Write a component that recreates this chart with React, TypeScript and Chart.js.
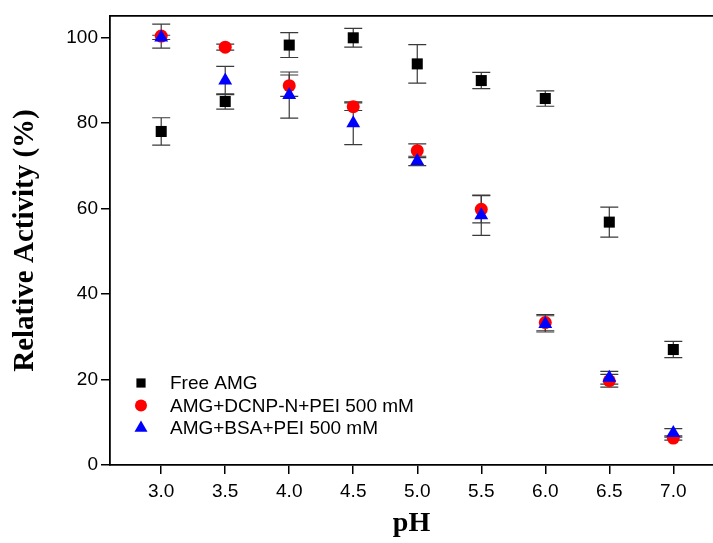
import React, { useEffect, useRef } from "react";
import { Chart, registerables } from "chart.js";

Chart.register(...registerables);

const phValues = [3.0, 3.5, 4.0, 4.5, 5.0, 5.5, 6.0, 6.5, 7.0];
const xTickValues = [3.0, 3.5, 4.0, 4.5, 5.0, 5.5, 6.0, 6.5, 7.0];
const yTickValues = [0, 20, 40, 60, 80, 100];

const freeAmg = [78.0, 85.0, 98.2, 99.9, 93.8, 89.9, 85.7, 56.8, 27.0];
const freeAmgErr = [3.2, 1.8, 2.9, 2.2, 4.5, 1.9, 1.8, 3.5, 1.9];

const dcnp = [100.3, 97.7, 88.7, 83.8, 73.5, 59.8, 33.3, 19.7, 6.3];
const dcnpErr = [2.8, 0.7, 2.5, 0.9, 1.6, 3.2, 1.9, 1.5, 0.5];

const bsa = [100.0, 89.9, 86.5, 79.9, 71.1, 58.4, 33.0, 20.4, 7.5];
const bsaErr = [0.5, 3.3, 5.4, 5.0, 1.1, 4.7, 1.9, 1.5, 1.0];

const seriesLabels = ["Free AMG", "AMG+DCNP-N+PEI 500 mM", "AMG+BSA+PEI 500 mM"];

function drawMarker(ctx: CanvasRenderingContext2D, style: string, x: number, y: number, r: number, color: string) {
  ctx.save();
  ctx.fillStyle = color;
  ctx.beginPath();
  if (style === "rect") {
    const s = Math.SQRT1_2 * r;
    ctx.rect(x - s, y - s, 2 * s, 2 * s);
  } else if (style === "circle") {
    ctx.arc(x, y, r, 0, Math.PI * 2);
  } else {
    for (let k = 0; k < 3; k++) {
      const a = (k * 2 * Math.PI) / 3;
      const px = x + Math.sin(a) * r;
      const py = y - Math.cos(a) * r;
      if (k === 0) ctx.moveTo(px, py);
      else ctx.lineTo(px, py);
    }
    ctx.closePath();
  }
  ctx.fill();
  ctx.restore();
}

const errorBarPlugin = {
  id: "errorBars",
  beforeDatasetsDraw(chart: any) {
    const ctx = chart.ctx;
    const xs = chart.scales.x;
    const ys = chart.scales.y;
    ctx.save();
    ctx.strokeStyle = "#3a3a3a";
    ctx.lineWidth = 1.2;
    chart.data.datasets.forEach((ds: any) => {
      const errs: number[] = ds.errors || [];
      ds.data.forEach((p: any, i: number) => {
        const e = errs[i];
        if (e == null) return;
        const x = xs.getPixelForValue(p.x);
        const yt = ys.getPixelForValue(p.y + e);
        const yb = ys.getPixelForValue(p.y - e);
        ctx.beginPath();
        ctx.moveTo(x, yt);
        ctx.lineTo(x, yb);
        ctx.moveTo(x - 9, yt);
        ctx.lineTo(x + 9, yt);
        ctx.moveTo(x - 9, yb);
        ctx.lineTo(x + 9, yb);
        ctx.stroke();
      });
    });
    ctx.restore();
  },
};

const legendPlugin = {
  id: "insideLegend",
  afterDatasetsDraw(chart: any) {
    const ctx = chart.ctx;
    const left = chart.chartArea.left;
    const bottom = chart.chartArea.bottom;
    ctx.save();
    ctx.font = "19px 'Liberation Sans', Arial, sans-serif";
    ctx.textBaseline = "middle";
    ctx.textAlign = "left";
    ctx.fillStyle = "#000";
    chart.data.datasets.forEach((ds: any, i: number) => {
      const y = bottom - 82 + i * 22.5;
      drawMarker(ctx, ds.pointStyle, left + 31, y, ds.legendRadius, ds.backgroundColor);
      ctx.fillStyle = "#000";
      ctx.fillText(ds.label, left + 60, y + 1);
    });
    ctx.restore();
  },
};

const zeroPad = (scale: any) => {
  scale.paddingLeft = 0;
  scale.paddingRight = 0;
  scale.paddingTop = 0;
  scale.paddingBottom = 0;
};

export default function App() {
  const canvasRef = useRef<HTMLCanvasElement | null>(null);

  useEffect(() => {
    if (!canvasRef.current) return;
    const mk = (vals: number[]) => vals.map((v, i) => ({ x: phValues[i], y: v }));
    const tickFont = { family: "'Liberation Sans', Arial, sans-serif", size: 19 };
    const serif = "'Liberation Serif', 'Times New Roman', serif";
    const chart = new Chart(canvasRef.current, {
      type: "scatter",
      data: {
        datasets: [
          {
            label: seriesLabels[0],
            data: mk(freeAmg),
            errors: freeAmgErr,
            pointStyle: "rect",
            pointRadius: 7.8,
            legendRadius: 6.5,
            backgroundColor: "#000000",
            borderColor: "#000000",
            borderWidth: 0,
            order: 2,
          } as any,
          {
            label: seriesLabels[1],
            data: mk(dcnp),
            errors: dcnpErr,
            pointStyle: "circle",
            pointRadius: 6.5,
            legendRadius: 6,
            backgroundColor: "#ff0000",
            borderColor: "#ff0000",
            borderWidth: 0,
            order: 1,
          } as any,
          {
            label: seriesLabels[2],
            data: mk(bsa),
            errors: bsaErr,
            pointStyle: "triangle",
            pointRadius: 8,
            legendRadius: 7.5,
            backgroundColor: "#0000ff",
            borderColor: "#0000ff",
            borderWidth: 0,
            order: 0,
          } as any,
        ],
      },
      options: {
        responsive: false,
        animation: false,
        layout: { padding: 0, autoPadding: false },
        plugins: {
          legend: { display: false },
          tooltip: { enabled: false },
        },
        scales: {
          x: {
            type: "linear",
            position: "bottom",
            min: 2.6,
            max: 7.31,
            afterBuildTicks: (scale: any) => {
              scale.ticks = xTickValues.map((v) => ({ value: v }));
            },
            afterFit: (scale: any) => {
              scale.height = 78;
              zeroPad(scale);
            },
            grid: { drawOnChartArea: false, drawTicks: true, tickLength: 9, color: "#000", lineWidth: 1.5 },
            border: { display: true, color: "#000", width: 1.8 },
            ticks: {
              font: tickFont,
              color: "#000",
              padding: 6,
              maxRotation: 0,
              autoSkip: false,
              callback: (v: any) => Number(v).toFixed(1),
            },
            title: {
              display: true,
              text: "pH",
              font: { family: serif, size: 28, weight: "bold" },
              color: "#000",
              padding: { top: 0, bottom: 2 },
            },
          },
          x2: {
            type: "linear",
            position: "top",
            min: 2.6,
            max: 7.31,
            afterFit: (scale: any) => {
              scale.height = 16;
              zeroPad(scale);
            },
            grid: { drawOnChartArea: false, drawTicks: false },
            border: { display: true, color: "#000", width: 1.8 },
            ticks: { display: false },
          },
          y: {
            type: "linear",
            position: "left",
            min: 0,
            max: 105,
            afterBuildTicks: (scale: any) => {
              scale.ticks = yTickValues.map((v) => ({ value: v }));
            },
            afterFit: (scale: any) => {
              scale.width = 110;
              zeroPad(scale);
            },
            grid: { drawOnChartArea: false, drawTicks: true, tickLength: 9, color: "#000", lineWidth: 1.5 },
            border: { display: true, color: "#000", width: 1.8 },
            ticks: {
              font: tickFont,
              color: "#000",
              padding: 3,
              autoSkip: false,
            },
            title: {
              display: true,
              text: "Relative Activity (%)",
              font: { family: serif, size: 29, weight: "bold" },
              color: "#000",
              padding: { top: 8, bottom: 0 },
            },
          },
        },
      } as any,
      plugins: [errorBarPlugin, legendPlugin],
    });
    return () => chart.destroy();
  }, []);

  return (
    <div style={{ position: "absolute", left: 0, top: 0, width: 713, height: 543, background: "#fff" }}>
      <canvas ref={canvasRef} width={713} height={543} />
    </div>
  );
}
